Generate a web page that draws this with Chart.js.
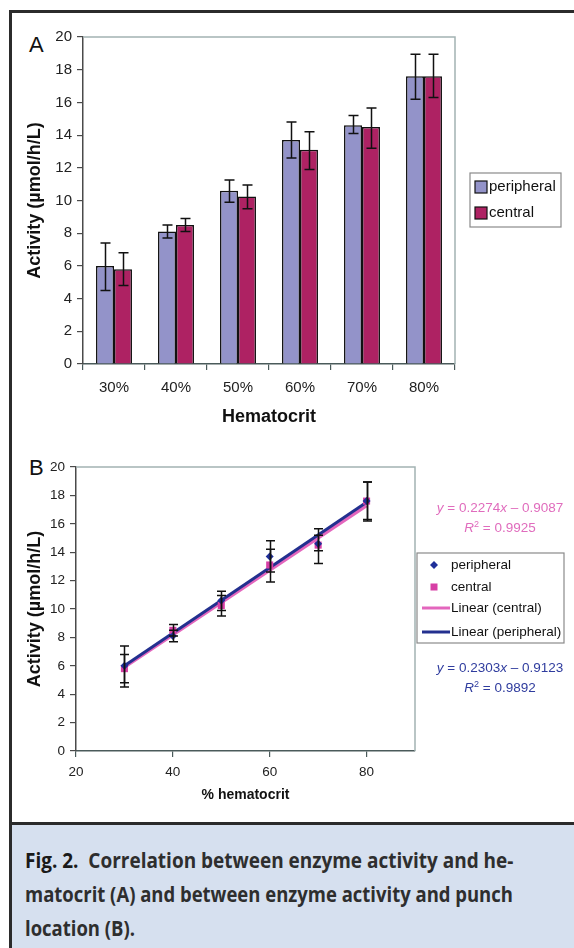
<!DOCTYPE html>
<html>
<head>
<meta charset="utf-8">
<script src="https://cdn.jsdelivr.net/npm/chart.js@4.4.1/dist/chart.umd.min.js"></script>
<style>
  body { margin: 0; background: #fff; width: 574px; height: 948px; overflow: hidden; position: relative; font-family: Arial, "Liberation Sans", sans-serif; }
  .abs { position: absolute; }
  #frameTop { left: 9px; top: 10px; right: 0; height: 3px; background: #2b2b2b; }
  #frameLeft { left: 9px; top: 10px; width: 3px; bottom: 0; background: #2b2b2b; }
  #capLine { left: 9px; top: 822px; right: 0; height: 3px; background: #2b2b2b; }
  #capBg { left: 12px; top: 825px; right: 0; bottom: 0; background: #d6e0ef; }
  #cap { left: 25px; top: 842px; width: 488px; font-family: "Open Sans", "Noto Sans", sans-serif; font-weight: 700; font-size: 22px; line-height: 34px; color: #2e2e2e; }
  #cap .ln { white-space: nowrap; height: 34px; }
  #cap .ln span.t { display: inline-block; transform-origin: 0 50%; }
  .panel { font-size: 22px; color: #111; line-height: 21px; }
  .eq { left: 420px; width: 160px; text-align: center; font-size: 13.5px; line-height: 20px; }
  .eq sup { font-size: 9px; line-height: 0; vertical-align: 5px; }
</style>
</head>
<body>
<div class="abs" id="frameTop"></div>
<div class="abs" id="frameLeft"></div>
<div class="abs" id="capBg"></div>
<div class="abs" id="capLine"></div>

<div class="abs panel" style="left:29px; top:34px;">A</div>
<div class="abs panel" style="left:29px; top:457px;">B</div>

<canvas id="chartA" class="abs" style="left:12px; top:14px;" width="560" height="420"></canvas>
<canvas id="chartB" class="abs" style="left:12px; top:440px;" width="560" height="380"></canvas>

<div class="abs eq" style="top:498px; color:#e06cbd;"><i>y</i> = 0.2274<i>x</i> – 0.9087<br><i>R</i><sup>2</sup> = 0.9925</div>
<div class="abs eq" style="top:658px; color:#2f3c9e;"><i>y</i> = 0.2303<i>x</i> – 0.9123<br><i>R</i><sup>2</sup> = 0.9892</div>

<div class="abs" id="cap">
  <div class="ln"><span class="t"><span style="color:#1a1a1a">Fig. 2.</span>&nbsp; Correlation between enzyme activity and he-</span></div>
  <div class="ln"><span class="t">matocrit (A) and between enzyme activity and punch</span></div>
  <div class="ln"><span class="t">location (B).</span></div>
</div>

<script>
const categories = ['30%', '40%', '50%', '60%', '70%', '80%'];
const hematocrit = [30, 40, 50, 60, 70, 80];

const peripheral = [6.0, 8.1, 10.6, 13.7, 14.6, 17.6];
const peripheralHi = [7.4, 8.5, 11.25, 14.8, 15.2, 18.95];
const peripheralLo = [4.5, 7.7, 9.9, 12.6, 14.1, 16.2];

const central = [5.8, 8.5, 10.25, 13.1, 14.5, 17.6];
const centralHi = [6.8, 8.9, 10.95, 14.2, 15.65, 18.95];
const centralLo = [4.8, 8.1, 9.5, 11.9, 13.2, 16.3];

// trendline end points (x = 30 and x = 80)
const trendX = [30, 80];
const trendCentral = [5.91, 17.28];
const trendPeripheral = [6.00, 17.51];

const xTicksB = [20, 40, 60, 80];

const FONT = 'Arial, "Liberation Sans", sans-serif';
Chart.defaults.font.family = FONT;
Chart.defaults.color = '#222';
Chart.defaults.devicePixelRatio = 1;
Chart.defaults.animation = false;

const BAR_BLUE = '#9393c9';
const BAR_RED = '#ae2263';
const PT_BLUE = '#1f2f99';
const PT_PINK = '#d73fa5';
const LN_PINK = '#e366bd';
const LN_BLUE = '#23308f';

// caption: squeeze each line to the column width (narrow typeface look)
(function fitCaption() {
  const spans = document.querySelectorAll('#cap .t');
  const colW = 488;
  const s0 = colW / spans[0].offsetWidth;
  const s1 = colW / spans[1].offsetWidth;
  spans[0].style.transform = 'scaleX(' + s0 + ')';
  spans[1].style.transform = 'scaleX(' + s1 + ')';
  spans[2].style.transform = 'scaleX(' + s1 + ')';
})();

// error bars drawn through the chart scales
const errorBars = {
  id: 'errorBars',
  afterDatasetsDraw(chart) {
    const ctx = chart.ctx;
    const y = chart.scales.y;
    chart.data.datasets.forEach((ds, i) => {
      if (!ds.errHi) return;
      const meta = chart.getDatasetMeta(i);
      const cap = ds.capWidth || 5;
      ctx.save();
      ctx.strokeStyle = '#111';
      ctx.lineWidth = 1.5;
      meta.data.forEach((el, j) => {
        const x = Math.round(el.x) + 0.5;
        const yh = y.getPixelForValue(ds.errHi[j]);
        const yl = y.getPixelForValue(ds.errLo[j]);
        ctx.beginPath();
        ctx.moveTo(x, yh); ctx.lineTo(x, yl);
        ctx.moveTo(x - cap, yh); ctx.lineTo(x + cap, yh);
        ctx.moveTo(x - cap, yl); ctx.lineTo(x + cap, yl);
        ctx.stroke();
      });
      ctx.restore();
    });
  }
};

// light border on the top and right of the plot area
const plotFrame = {
  id: 'plotFrame',
  beforeDatasetsDraw(chart) {
    const {ctx, chartArea: a} = chart;
    ctx.save();
    ctx.strokeStyle = '#a3b3b3';
    ctx.lineWidth = 1.5;
    ctx.beginPath();
    ctx.moveTo(a.left, a.top); ctx.lineTo(a.right, a.top); ctx.lineTo(a.right, a.bottom);
    ctx.stroke();
    ctx.restore();
  }
};

// simple boxed legend
function boxLegend(opts) {
  return {
    id: 'boxLegend',
    afterDraw(chart) {
      const ctx = chart.ctx;
      const o = opts;
      ctx.save();
      ctx.strokeStyle = '#8a8a8a';
      ctx.lineWidth = 1.2;
      ctx.strokeRect(o.x, o.y, o.w, o.h);
      ctx.font = o.font;
      ctx.textBaseline = 'middle';
      ctx.fillStyle = '#111';
      o.items.forEach((it, k) => {
        const ds = chart.data.datasets[it.ds];
        const cy = o.itemY[k];
        if (it.kind === 'box') {
          ctx.fillStyle = ds.backgroundColor;
          ctx.fillRect(o.markX, cy - 6, 12, 12);
          ctx.strokeStyle = '#111';
          ctx.lineWidth = 1.2;
          ctx.strokeRect(o.markX, cy - 6, 12, 12);
        } else if (it.kind === 'line') {
          ctx.strokeStyle = ds.borderColor;
          ctx.lineWidth = 3;
          ctx.beginPath();
          ctx.moveTo(o.lineX0, cy); ctx.lineTo(o.lineX1, cy);
          ctx.stroke();
        } else if (it.kind === 'diamond') {
          ctx.fillStyle = ds.backgroundColor;
          ctx.beginPath();
          ctx.moveTo(o.markX, cy - 4); ctx.lineTo(o.markX + 4, cy);
          ctx.lineTo(o.markX, cy + 4); ctx.lineTo(o.markX - 4, cy);
          ctx.closePath(); ctx.fill();
        } else if (it.kind === 'square') {
          ctx.fillStyle = ds.backgroundColor;
          ctx.fillRect(o.markX - 3.5, cy - 3.5, 7, 7);
        }
        ctx.fillStyle = '#111';
        ctx.fillText(ds.label, o.textX, cy);
      });
      ctx.restore();
    }
  };
}

// ---------- Chart A ----------
new Chart(document.getElementById('chartA'), {
  type: 'bar',
  data: {
    labels: categories,
    datasets: [
      { label: 'peripheral', data: peripheral, errHi: peripheralHi, errLo: peripheralLo, capWidth: 5,
        backgroundColor: BAR_BLUE, borderColor: '#111', borderWidth: 1.5 },
      { label: 'central', data: central, errHi: centralHi, errLo: centralLo, capWidth: 5,
        backgroundColor: BAR_RED, borderColor: '#111', borderWidth: 1.5 }
    ]
  },
  options: {
    responsive: false,
    categoryPercentage: 0.58,
    barPercentage: 1.0,
    layout: { padding: { top: 23, right: 117, left: 0, bottom: 0 } },
    plugins: { legend: { display: false }, tooltip: { enabled: false } },
    scales: {
      x: {
        offset: true,
        grid: { offset: true, drawOnChartArea: false, tickLength: 6, color: '#4a5a5a', lineWidth: 1.2 },
        border: { color: '#4a5a5a', width: 1.5 },
        ticks: { font: { size: 15 }, padding: 9, color: '#222' },
        title: { display: true, text: 'Hematocrit', font: { size: 18, weight: 'bold' }, color: '#111', padding: { top: 0, bottom: 6 } },
        afterFit: s => { s.height = 70; }
      },
      y: {
        min: 0, max: 20,
        ticks: { stepSize: 2, font: { size: 15 }, padding: 5, color: '#222' },
        grid: { drawOnChartArea: false, tickLength: 6, color: '#4a4a4a', lineWidth: 1.2 },
        border: { color: '#4a4a4a', width: 1.5 },
        title: { display: true, text: 'Activity (µmol/h/L)', font: { size: 18, weight: 'bold' }, color: '#111', padding: { top: 12, bottom: 0 } },
        afterFit: s => { s.width = 71; }
      }
    }
  },
  plugins: [plotFrame, errorBars, boxLegend({
    x: 458, y: 159, w: 91, h: 54, font: '15px ' + FONT,
    markX: 463, textX: 477, itemY: [173, 199],
    items: [{ ds: 0, kind: 'box' }, { ds: 1, kind: 'box' }]
  })]
});

// ---------- Chart B ----------
const pts = vals => hematocrit.map((x, i) => ({ x: x, y: vals[i] }));
const trend = vals => trendX.map((x, i) => ({ x: x, y: vals[i] }));

new Chart(document.getElementById('chartB'), {
  type: 'scatter',
  data: {
    datasets: [
      { label: 'peripheral', data: pts(peripheral), errHi: peripheralHi, errLo: peripheralLo, capWidth: 4.5,
        pointStyle: 'rectRot', pointRadius: 4, backgroundColor: PT_BLUE, borderColor: PT_BLUE, borderWidth: 0 },
      { label: 'central', data: pts(central), errHi: centralHi, errLo: centralLo, capWidth: 4.5,
        pointStyle: 'rect', pointRadius: 5, backgroundColor: PT_PINK, borderColor: PT_PINK, borderWidth: 0 },
      { type: 'line', label: 'Linear (peripheral)', data: trend(trendPeripheral),
        borderColor: LN_BLUE, borderWidth: 3, pointRadius: 0, fill: false },
      { type: 'line', label: 'Linear (central)', data: trend(trendCentral),
        borderColor: LN_PINK, borderWidth: 3.5, pointRadius: 0, fill: false }
    ]
  },
  options: {
    responsive: false,
    layout: { padding: { top: 27, right: 157, left: 0, bottom: 0 } },
    plugins: { legend: { display: false }, tooltip: { enabled: false } },
    scales: {
      x: {
        type: 'linear', min: 20, max: 90,
        afterBuildTicks: s => { s.ticks = xTicksB.map(v => ({ value: v })); },
        grid: { drawOnChartArea: false, tickLength: 6, color: '#4a5a5a', lineWidth: 1.2 },
        border: { color: '#4a5a5a', width: 1.5 },
        ticks: { font: { size: 13.5 }, padding: 7, color: '#222' },
        title: { display: true, text: '% hematocrit', font: { size: 14, weight: 'bold' }, color: '#111', padding: { top: 0, bottom: 16.5 } },
        afterFit: s => { s.height = 69; }
      },
      y: {
        min: 0, max: 20,
        ticks: { stepSize: 2, font: { size: 13.5 }, padding: 5, color: '#222' },
        grid: { drawOnChartArea: false, tickLength: 6, color: '#4a4a4a', lineWidth: 1.2 },
        border: { color: '#4a4a4a', width: 1.5 },
        title: { display: true, text: 'Activity (µmol/h/L)', font: { size: 18, weight: 'bold' }, color: '#111', padding: { top: 12, bottom: 0 } },
        afterFit: s => { s.width = 64; }
      }
    }
  },
  plugins: [plotFrame, errorBars, boxLegend({
    x: 405, y: 113, w: 147, h: 90, font: '13.5px ' + FONT,
    markX: 422, textX: 439, lineX0: 410, lineX1: 438, itemY: [125, 147, 168, 192],
    items: [{ ds: 0, kind: 'diamond' }, { ds: 1, kind: 'square' }, { ds: 3, kind: 'line' }, { ds: 2, kind: 'line' }]
  })]
});
</script>
</body>
</html>
